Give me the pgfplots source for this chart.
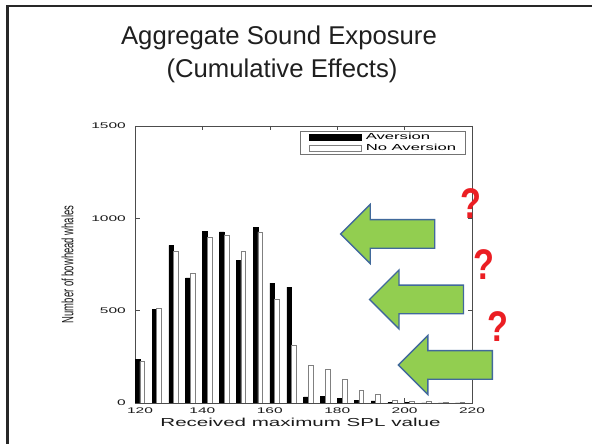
\documentclass[border=0pt]{standalone}
\usepackage{pgfplots}
\pgfplotsset{compat=1.18}
\usepackage{fontspec}
\setmainfont{Liberation Sans}
\newfontfamily\tickfont[FakeStretch=1.9]{Liberation Sans}
\newfontfamily\legfont[FakeStretch=1.9]{Liberation Sans}
\newfontfamily\xlabfont[FakeStretch=1.78]{Liberation Sans}
\newfontfamily\ylabfont[FakeStretch=0.58]{Liberation Sans}
\newfontfamily\qfont[FakeStretch=0.8]{Liberation Sans}
\definecolor{arrowgreen}{RGB}{146,206,80}
\definecolor{arrowblue}{RGB}{65,105,155}
\definecolor{qred}{RGB}{235,30,35}
\definecolor{framegray}{RGB}{40,40,40}

\pgfplotstableread{
x    av   nav
120  235  226
125  505  513
130  853  821
135  678  705
140  931  895
145  926  910
150  772  821
155  951  926
160  649  564
165  627  315
170  33   206
175  36   181
180  25   127
185  16   71
190  11   49
195  3    13
200  2    11
205  1    9
210  1    4
215  1    3
}\whales

\begin{document}
\begin{tikzpicture}
\begin{scope}[x=1bp,y=1bp]
\path[use as bounding box] (0,0) rectangle (592,444);
\draw[framegray, line width=2.5bp] (7.5,0) -- (7.5,438) -- (592,438);
\node[anchor=base, text=black!88, inner sep=0pt, font=\fontsize{25.8}{30}\selectfont] at (279,399) {Aggregate Sound Exposure};
\node[anchor=base, text=black!88, inner sep=0pt, font=\fontsize{25.8}{30}\selectfont] at (282,366.5) {(Cumulative Effects)};
\end{scope}

\begin{axis}[
  at={(135bp,41bp)}, anchor=south west, scale only axis,
  width=337bp, height=277bp,
  xmin=120, xmax=220, ymin=0, ymax=1500,
  xtick={120,140,160,180,200,220},
  xticklabels={\hspace*{10bp}120,140,160,180,200,220},
  ytick={0,500,1000,1500},
  yticklabels={0,500,1000,1500},
  tick pos=both, tick align=inside,
  major tick length=4.5bp,
  axis line style={black!70, line width=0.6bp},
  tick style={black!70, line width=0.6bp},
  /pgf/number format/assume math mode=true,
  ticklabel style={font=\tickfont\fontsize{8.2}{9}\selectfont, inner sep=0pt, text=black!90},
  xticklabel style={anchor=north, yshift=-5bp},
  yticklabel style={anchor=east, xshift=-9bp},
  xlabel={Received maximum SPL value},
  every axis x label/.style={at={(axis description cs:0.491,-0.0866)}, anchor=base, inner sep=0pt, font=\xlabfont\fontsize{11.6}{12}\selectfont, text=black!90},
  ylabel={Number of bowhead whales},
  every axis y label/.style={at={(axis description cs:-0.2,0.5)}, rotate=90, anchor=center, inner sep=0pt, font=\ylabfont\fontsize{16.4}{17}\selectfont, text=black!90},
  legend cell align=left,
  legend image code/.code={\draw[#1, line width=0.5bp] (0bp,-2.7bp) rectangle (52bp,2.7bp);},
  legend style={at={(0.982,0.982)}, anchor=north east, draw=black!55, line width=0.5bp, fill=white,
    inner xsep=8.5bp, inner ysep=1bp, row sep=1bp, column sep=3.7bp,
    font=\legfont\fontsize{8.8}{9}\selectfont,
    nodes={inner sep=1bp, text height=6.5bp, text depth=1.5bp}},
]
\addplot[ybar, bar width=1.4, bar shift=0.75, fill=black, draw=black, line width=0.5bp] table[x=x, y=av] {\whales};
\addlegendentry{Aversion}
\addplot[ybar, bar width=1.4, bar shift=2.15, fill=white, draw=black!50, line width=0.6bp] table[x=x, y=nav] {\whales};
\addlegendentry{No Aversion}
\end{axis}

\begin{scope}[x=1bp,y=1bp]
% block arrows
\draw[fill=arrowgreen, draw=arrowblue, line width=1.4bp]
  (340.7,210) -- (370.2,239.5) -- (370.2,224.3) -- (434.7,224.3) -- (434.7,195.7) -- (370.2,195.7) -- (370.2,180.5) -- cycle;
\draw[fill=arrowgreen, draw=arrowblue, line width=1.4bp]
  (369.5,144.5) -- (399,174) -- (399,158.8) -- (463.5,158.8) -- (463.5,130.2) -- (399,130.2) -- (399,115) -- cycle;
\draw[fill=arrowgreen, draw=arrowblue, line width=1.4bp]
  (398.3,79) -- (427.8,108.5) -- (427.8,93.3) -- (492.3,93.3) -- (492.3,64.7) -- (427.8,64.7) -- (427.8,49.5) -- cycle;
% question marks
\node[anchor=base, text=qred, inner sep=0pt, font=\qfont\bfseries\fontsize{43}{43}\selectfont] at (471,225.7) {?};
\node[anchor=base, text=qred, inner sep=0pt, font=\qfont\bfseries\fontsize{43}{43}\selectfont] at (484,164) {?};
\node[anchor=base, text=qred, inner sep=0pt, font=\qfont\bfseries\fontsize{43}{43}\selectfont] at (497.5,102.3) {?};
\end{scope}
\end{tikzpicture}
\end{document}
